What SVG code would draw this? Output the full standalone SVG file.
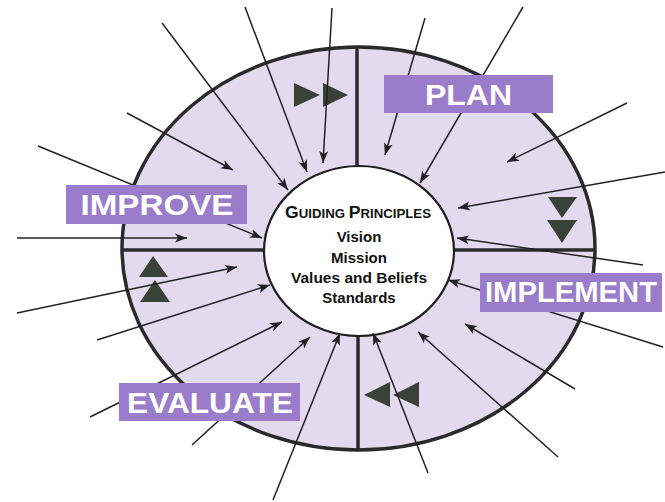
<svg xmlns="http://www.w3.org/2000/svg" width="665" height="502" viewBox="0 0 665 502">
<style>
.ring{fill:#e3daf0;stroke:#2a2a2a;stroke-width:3.5}
.core{fill:#ffffff;stroke:#1e1e1e;stroke-width:2.2}
.div{stroke:#2a2a2a;stroke-width:3.5;fill:none}
.arr{stroke:#222;stroke-width:1.5;fill:none;marker-end:url(#ah)}
.tri{fill:#3a4237}
.box{fill:#9a7ccb}
.lbl{font-family:"Liberation Sans",Arial,sans-serif;font-weight:bold;font-size:30px;fill:#ffffff;text-anchor:middle}
.ctr{font-family:"Liberation Sans",Arial,sans-serif;font-weight:bold;font-size:15px;fill:#111;text-anchor:middle}
</style>
<defs>
<marker id="ah" markerUnits="userSpaceOnUse" markerWidth="14" markerHeight="10" refX="12" refY="5" orient="auto">
<path d="M0,0.5 L12,5 L0,9.5 L3,5 Z" fill="#222"/>
</marker>
</defs>
<rect width="665" height="502" fill="#ffffff"/>
<g id="ring">
<ellipse class="ring" cx="358.5" cy="248.5" rx="236.5" ry="201.5"/>
<line class="div" x1="357" y1="47" x2="357" y2="168"/>
<line class="div" x1="358" y1="333" x2="358" y2="450"/>
<line class="div" x1="122" y1="250" x2="264" y2="250"/>
<line class="div" x1="454" y1="250" x2="595" y2="250"/>
</g>
<g id="triangles">
<polygon class="tri" points="294,83 294,107 320,95"/>
<polygon class="tri" points="323,83 323,107 348,95"/>
<polygon class="tri" points="548,197 577,197 562,218"/>
<polygon class="tri" points="547,220 577,220 562,243"/>
<polygon class="tri" points="364,395 390,382 390,407"/>
<polygon class="tri" points="393,395 419,382 419,407"/>
<polygon class="tri" points="153,256 168,277 139,277"/>
<polygon class="tri" points="155,280 170,302 140,302"/>
</g>
<g id="core">
<ellipse class="core" cx="359" cy="251" rx="95" ry="85"/>
<text class="ctr" x="358" y="218" textLength="146" lengthAdjust="spacingAndGlyphs"><tspan font-size="16">G</tspan><tspan font-size="12">UIDING </tspan><tspan font-size="16">P</tspan><tspan font-size="12">RINCIPLES</tspan></text>
<text class="ctr" x="359" y="242">Vision</text>
<text class="ctr" x="359" y="263">Mission</text>
<text class="ctr" x="359" y="283" textLength="136" lengthAdjust="spacingAndGlyphs">Values and Beliefs</text>
<text class="ctr" x="359" y="303">Standards</text>
</g>
<g id="connectors">
<line class="arr" x1="162" y1="23" x2="288" y2="190"/>
<line class="arr" x1="127" y1="113" x2="233" y2="170"/>
<line class="arr" x1="245" y1="7" x2="307" y2="172"/>
<line class="arr" x1="332" y1="8" x2="323" y2="163"/>
<line class="arr" x1="38" y1="146" x2="262" y2="238"/>
<line class="arr" x1="425" y1="18" x2="385" y2="155"/>
<line class="arr" x1="523" y1="7" x2="420" y2="183"/>
<line class="arr" x1="627" y1="103" x2="507" y2="162"/>
<line class="arr" x1="665" y1="172" x2="458" y2="208"/>
<line class="arr" x1="643" y1="265" x2="457" y2="238"/>
<line class="arr" x1="663" y1="347" x2="448" y2="280"/>
<line class="arr" x1="575" y1="389" x2="465" y2="324"/>
<line class="arr" x1="558" y1="457" x2="418" y2="332"/>
<line class="arr" x1="428" y1="473" x2="373" y2="333"/>
<line class="arr" x1="273" y1="500" x2="340" y2="333"/>
<line class="arr" x1="192" y1="445" x2="310" y2="337"/>
<line class="arr" x1="90" y1="417" x2="282" y2="322"/>
<line class="arr" x1="97" y1="340" x2="270" y2="285"/>
<line class="arr" x1="17" y1="313" x2="237" y2="267"/>
<line class="arr" x1="17" y1="238" x2="187" y2="238"/>
</g>
<g id="plan">
<rect class="box" x="384" y="75" width="169" height="38"/>
<text class="lbl" x="468.5" y="105" textLength="87" lengthAdjust="spacingAndGlyphs">PLAN</text>
</g>
<g id="improve">
<rect class="box" x="66" y="185" width="181" height="39"/>
<text class="lbl" x="157" y="215" textLength="153" lengthAdjust="spacingAndGlyphs">IMPROVE</text>
</g>
<g id="evaluate">
<rect class="box" x="119" y="383" width="181" height="38"/>
<text class="lbl" x="210" y="413" textLength="166" lengthAdjust="spacingAndGlyphs">EVALUATE</text>
</g>
<g id="implement">
<rect class="box" x="480" y="273" width="182" height="39"/>
<text class="lbl" x="571" y="302" textLength="172" lengthAdjust="spacingAndGlyphs">IMPLEMENT</text>
</g>
</svg>
